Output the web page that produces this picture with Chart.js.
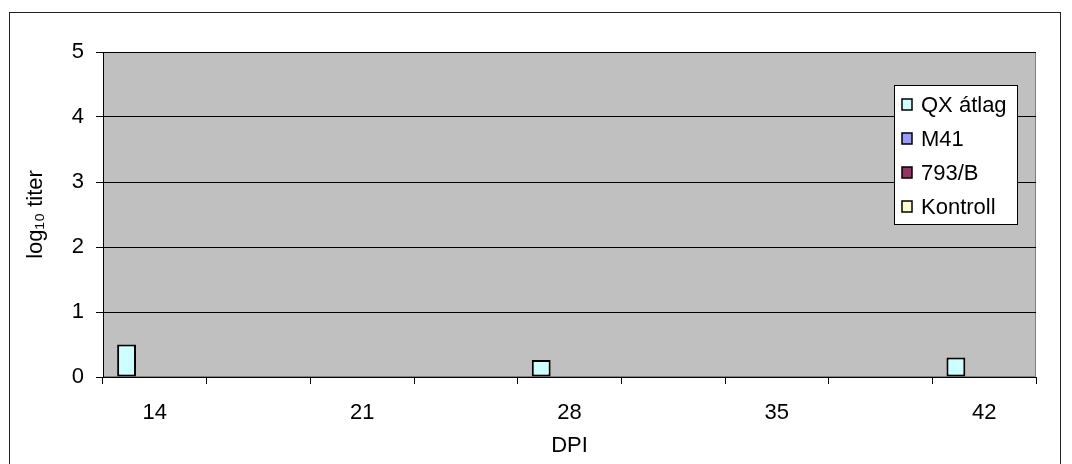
<!DOCTYPE html>
<html>
<head>
<meta charset="utf-8">
<script src="https://cdn.jsdelivr.net/npm/chart.js@4"></script>
<style>
  html, body { margin: 0; padding: 0; background: #fff; }
  #wrap { position: relative; width: 1072px; height: 464px; overflow: hidden; }
  #frame { position: absolute; left: 9px; top: 12px; width: 1050px; height: 500px;
           border: 1.5px solid #222; pointer-events: none; }
</style>
</head>
<body>
<div id="wrap">
  <canvas id="chart" width="1072" height="464"></canvas>
  <div id="frame"></div>
</div>
<script>
// DPI categories, only every other one carries a label
const categories = ['14', '', '21', '', '28', '', '35', '', '42'];
const qxValues = [0.5, null, null, null, 0.26, null, null, null, 0.3];
const m41Values = [null, null, null, null, null, null, null, null, null];
const b793Values = [null, null, null, null, null, null, null, null, null];
const kontrollValues = [null, null, null, null, null, null, null, null, null];
const seriesNames = ['QX átlag', 'M41', '793/B', 'Kontroll'];
const seriesColors = ['#CCFFFF', '#9999FF', '#993366', '#FFFFCC'];
const yTicks = [0, 1, 2, 3, 4, 5];

const FONT = "'Liberation Sans', Arial, sans-serif";
const axisFont = { family: FONT, size: 22 };

const plotBg = {
    id: 'plotBg',
    beforeDraw(chart) {
        const { ctx, chartArea: a } = chart;
        ctx.save();
        ctx.fillStyle = '#C0C0C0';
        ctx.fillRect(a.left, a.top, a.right - a.left, a.bottom - a.top);
        ctx.strokeStyle = '#808080';
        ctx.lineWidth = 1;
        ctx.strokeRect(a.left + 0.5, a.top + 0.5, a.right - a.left - 1, a.bottom - a.top - 1);
        ctx.restore();
    }
};

// Excel-style legend sitting inside the plot area
const boxLegend = {
    id: 'boxLegend',
    afterDraw(chart) {
        const ctx = chart.ctx;
        const x = 894, y = 85, w = 123, h = 139;
        ctx.save();
        ctx.fillStyle = '#fff';
        ctx.fillRect(x, y, w, h);
        ctx.strokeStyle = '#000';
        ctx.lineWidth = 1;
        ctx.strokeRect(x + 0.5, y + 0.5, w, h);
        ctx.font = "22px 'Liberation Sans', Arial, sans-serif";
        ctx.textBaseline = 'middle';
        chart.data.datasets.forEach((ds, i) => {
            const cy = y + 20 + i * 34;
            ctx.fillStyle = ds.backgroundColor;
            ctx.fillRect(902, cy - 6, 10, 11);
            ctx.lineWidth = 1.5;
            ctx.strokeRect(902, cy - 6, 10, 11);
            ctx.fillStyle = '#000';
            ctx.fillText(ds.label, 921, cy + 1);
        });
        ctx.restore();
    }
};

const datasets = [qxValues, m41Values, b793Values, kontrollValues].map((vals, i) => ({
    label: seriesNames[i],
    data: vals,
    backgroundColor: seriesColors[i],
    borderColor: '#000',
    borderWidth: 2,
    borderSkipped: false,
    categoryPercentage: 4 / 5.5,
    barPercentage: 1
}));

new Chart(document.getElementById('chart'), {
    type: 'bar',
    data: { labels: categories, datasets: datasets },
    options: {
        responsive: false,
        animation: false,
        layout: { padding: { left: 0, top: 52, right: 36, bottom: 0 } },
        plugins: { legend: { display: false }, tooltip: { enabled: false } },
        scales: {
            x: {
                afterFit(scale) { scale.height = 87; },
                grid: { offset: true, drawOnChartArea: false, drawTicks: true, tickLength: 7, color: '#000' },
                border: { color: '#000', width: 1 },
                ticks: { autoSkip: false, maxRotation: 0, padding: 16, color: '#000', font: axisFont },
                title: { display: true, text: 'DPI', color: '#000', font: axisFont, padding: { top: 0, bottom: 5 } }
            },
            y: {
                min: 0,
                max: 5,
                afterFit(scale) { scale.width = 103; },
                afterBuildTicks(scale) { scale.ticks = yTicks.map(v => ({ value: v })); },
                grid: { color: '#000', tickLength: 7, lineWidth: 1 },
                border: { color: '#000', width: 1 },
                ticks: { padding: 12, color: '#000', font: axisFont },
                title: { display: true, text: 'log₁₀ titer', color: '#000', font: axisFont, padding: { top: 23, bottom: 0 } }
            }
        }
    },
    plugins: [plotBg, boxLegend]
});
</script>
</body>
</html>
